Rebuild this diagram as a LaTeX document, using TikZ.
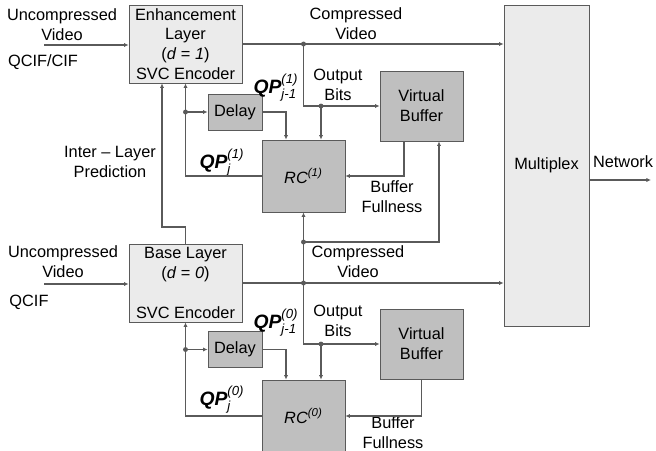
\documentclass[tikz,border=0pt]{standalone}
\usepackage{fontspec}
\setmainfont{Liberation Sans}
\usetikzlibrary{arrows.meta}
\definecolor{BoxClaro}{HTML}{EBEBEB}
\definecolor{BoxOscuro}{HTML}{BFBFBF}
\definecolor{Linea}{HTML}{5A5A5A}
\newcommand{\qp}[2]{$\mbox{\fontsize{11}{12}\selectfont\bfseries\itshape QP}^{\mbox{\fontsize{7.5}{8}\selectfont\itshape (#1)}}_{\mbox{\fontsize{7.5}{8}\selectfont\itshape #2}}$}
\begin{document}
\begin{tikzpicture}[x=.02cm,y=-.02cm,font=\fontsize{9.3}{11.3}\selectfont,>={Latex[length=2.6pt,width=2.4pt]},
  enc/.style={draw=Linea,fill=BoxClaro,minimum width=2.26cm,minimum height=1.56cm,align=center,inner sep=0pt},
  blk/.style={draw=Linea,fill=BoxOscuro,align=center,inner sep=0pt},
  wire/.style={Linea,line width=.6pt},
  lbl/.style={align=center,inner sep=0pt}]
\useasboundingbox (0,0) rectangle (656,450);
\node[enc] (enh) at (185.5,44) {Enhancement\\Layer\\(\textit{d} = \textit{1})\\SVC Encoder};
\node[enc] (base) at (185.5,283) {Base Layer\\(\textit{d} = \textit{0})\\[11.3pt]SVC Encoder};
\node[blk,minimum width=1.08cm,minimum height=.72cm] (dl1) at (235,112) {Delay};
\node[blk,minimum width=1.08cm,minimum height=.72cm] (dl0) at (235,349.5) {Delay};
\node[blk,minimum width=1.66cm,minimum height=1.44cm] (rc1) at (303.5,176) {\textit{RC}\textsuperscript{\textit{(1)}}};
\node[blk,minimum width=1.66cm,minimum height=1.44cm] (rc0) at (303.5,416) {\textit{RC}\textsuperscript{\textit{(0)}}};
\node[blk,minimum width=1.66cm,minimum height=1.4cm] (vb1) at (421.5,106) {Virtual\\Buffer};
\node[blk,minimum width=1.66cm,minimum height=1.4cm] (vb0) at (421.5,344) {Virtual\\Buffer};
\node[enc,minimum width=1.7cm,minimum height=6.42cm] (mux) at (546.5,165.5) {Multiplex};
\node[lbl] (uv1) at (62,25) {Uncompressed\\Video};
\node[lbl] (fmt1) at (43,62) {QCIF/CIF};
\node[lbl] (cv1) at (356,24) {Compressed\\Video};
\node[lbl] (qpd1) at (276,88) {\qp{1}{j-1}};
\node[lbl] (ob1) at (338,85) {Output\\Bits};
\node[lbl] (ilp) at (110,162) {Inter – Layer\\Prediction};
\node[lbl] (qp1) at (222,163) {\qp{1}{j}};
\node[lbl] (bf1) at (392,197) {Buffer\\Fullness};
\node[lbl] (net) at (623,162) {Network};
\node[lbl] (uv0) at (63,262) {Uncompressed\\Video};
\node[lbl] (fmt0) at (29,302) {QCIF};
\node[lbl] (cv0) at (358,262) {Compressed\\Video};
\node[lbl] (qpd0) at (276,323) {\qp{0}{j-1}};
\node[lbl] (ob0) at (338,321) {Output\\Bits};
\node[lbl] (qp0) at (222,400) {\qp{0}{j}};
\node[lbl] (bf0) at (393,433) {Buffer\\Fullness};
\coordinate (in1) at (44,45);
\coordinate (in0) at (44,284);
\coordinate (c1) at (enh.east -| rc1.south);
\coordinate (b1) at ([xshift=.35cm]rc1.north |- vb1.west);
\coordinate (q1) at (enh.south |- dl1.west);
\coordinate (il) at (162,227);
\coordinate (c0) at (base.east -| rc1.south);
\coordinate (u0) at (c0 |- 0,242);
\coordinate (b0) at ([xshift=.35cm]rc0.north |- vb0.west);
\coordinate (q0) at (base.south |- dl0.west);
\coordinate (nt) at (651,180);
\draw[wire,->] (in1) -- (in1 -| enh.west);
\draw[wire,->] (enh.east) -- (enh.east -| mux.west);
\draw[wire,->] (c1) |- (vb1.west);
\draw[wire,->] (b1) -- (b1 |- rc1.north);
\draw[wire,->] (dl1.east) -| ([xshift=-.35cm]rc1.north);
\draw[wire,->] (rc1.west) -| (enh.south);
\draw[wire,->] (q1) -- (dl1.west);
\draw[wire,->] ([xshift=-.35cm]vb1.south) |- (rc1.east);
\draw[wire,->] (base.north) |- (il) -- (il |- enh.south);
\draw[wire,->] (c0) -- (rc1.south);
\draw[wire,->] (u0) -| ([xshift=.35cm]vb1.south);
\draw[wire,->] (in0) -- (in0 -| base.west);
\draw[wire,->] (base.east) -- (base.east -| mux.west);
\draw[wire,->] (c0) |- (vb0.west);
\draw[wire,->] (b0) -- (b0 |- rc0.north);
\draw[wire,->] (dl0.east) -| ([xshift=-.35cm]rc0.north);
\draw[wire,->] (rc0.west) -| (base.south);
\draw[wire,->] (q0) -- (dl0.west);
\draw[wire,->] (vb0.south) |- (rc0.east);
\draw[wire,->] (nt -| mux.east) -- (nt);
\foreach \p in {c1,b1,q1,c0,u0,b0,q0} \fill[Linea] (\p) circle (1.4pt);
\end{tikzpicture}
\end{document}
